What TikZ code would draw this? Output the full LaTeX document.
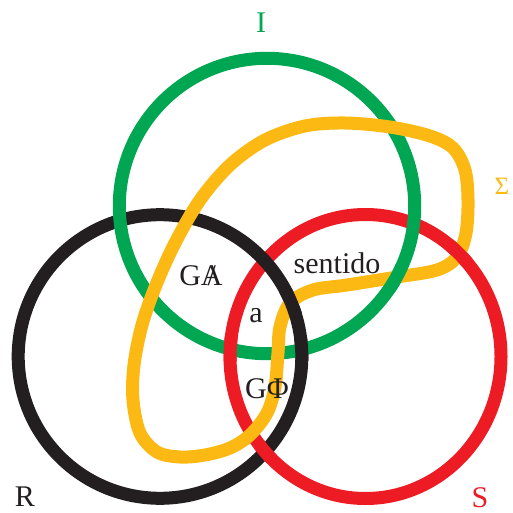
\documentclass[tikz,border=0pt]{standalone}
\usepackage{fontspec}
\setmainfont{Liberation Serif}
% ring outlines, reused for the over/under touch-ups
\newcommand\ringRedPath{(365.5,356.5) ellipse [x radius=135.5pt, y radius=142pt]}
\newcommand\ringBlackPath{(160,356.5) circle [radius=141.8pt]}
\newcommand\ringGreenPath{(267,206) circle [radius=147.7pt]}
\newcommand\sigmaPath{plot[smooth cycle, tension=0.55] coordinates {
  (180,457) (157,452) (140,433) (133,400) (134,365) (142,325) (156,285)
  (175,243) (200,200) (230,165) (265,140) (305,126) (345,123) (390,127)
  (430,136) (453,148) (465,170) (468,200) (466,233) (457,257) (437,270)
  (397,277) (347,285) (313,290) (290,303) (280,327) (278,353) (275,387)
  (267,413) (250,435) (230,448) (205,455)}}
\begin{document}
\begin{tikzpicture}[x=1pt,y=-1pt]
\definecolor{ringgreen}{RGB}{0,166,81}
\definecolor{ringblack}{RGB}{35,31,32}
\definecolor{ringred}{RGB}{237,28,36}
\definecolor{ringyellow}{RGB}{253,185,19}
\tikzset{
  ring/.style={line width=13pt},
  lbl/.style={font=\fontsize{30}{33}\selectfont, text=ringblack, inner sep=0pt},
}
\useasboundingbox (0,0) rectangle (513,513);

% base layer: R, S, I, then Sigma
\draw[ring, ringred] \ringRedPath;
\draw[ring, ringblack] \ringBlackPath;
\draw[ring, ringgreen] \ringGreenPath;
\draw[ring, ringyellow] \sigmaPath;

% crossings where a lower band passes over
\begin{scope}\clip (301,350) circle [radius=14pt];
  \draw[ring, ringblack] \ringBlackPath; \end{scope}
\begin{scope}\clip (230,349) circle [radius=14pt];
  \draw[ring, ringred] \ringRedPath; \end{scope}
\begin{scope}\clip (265,452) circle [radius=12pt];
  \draw[ring, ringred] \ringRedPath; \end{scope}
\begin{scope}\clip (396,278) circle [radius=15pt];
  \draw[ring, ringgreen] \ringGreenPath; \end{scope}
\begin{scope}\clip (459,253) circle [radius=15pt];
  \draw[ring, ringred] \ringRedPath; \end{scope}
\begin{scope}\clip (291,303) circle [radius=15pt];
  \draw[ring, ringblack] \ringBlackPath; \end{scope}

% labels
\node[lbl, text=ringgreen] (lI) at (261,23) {I};
\node[lbl, text=ringyellow, font=\fontsize{25}{28}\selectfont] (lSigma) at (502,186) {Σ};
\node[lbl] (lR) at (25,497) {R};
\node[lbl, text=ringred] (lS) at (480,498) {S};
\node[lbl] (lGA) at (201,276) {G\ooalign{A\cr\hidewidth/\hidewidth}};
\node[lbl] (la) at (256,316) {a};
\node[lbl] (lGPhi) at (267,389) {GΦ};
\node[lbl] (lsent) at (337,263) {sentido};
\end{tikzpicture}
\end{document}
